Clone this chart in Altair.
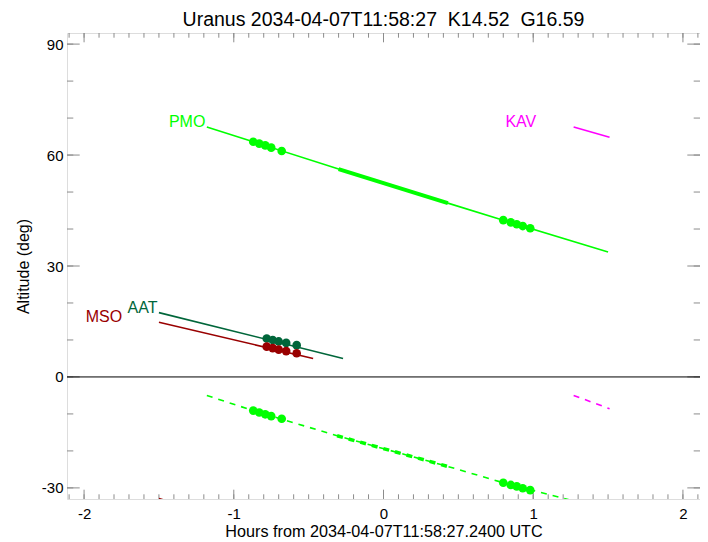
import altair as alt
import pandas as pd

TITLE = "Uranus 2034-04-07T11:58:27\u00a0\u00a0K14.52\u00a0\u00a0G16.59"
X_TITLE = "Hours from 2034-04-07T11:58:27.2400 UTC"
Y_TITLE = "Altitude (deg)"

# axis ticks
X_MAJOR = [-2, -1, 0, 1, 2]
X_MINOR = [round(-2.1 + 0.1 * i, 1) for i in range(43)]
Y_MAJOR = [-30, 0, 30, 60, 90]
Y_MINOR = [-30, -20, -10, 0, 10, 20, 30, 40, 50, 60, 70, 80, 90]

# PMO
PMO_H = [-1.18, -0.87, -0.30, 0.43, 0.80, 1.50]
PMO_ALT = [67.6, 63.6, 56.2, 47.0, 42.4, 33.8]
PMO_THICK_H = [-0.30, 0.43]
PMO_THICK_ALT = [56.2, 47.0]
PMO_DOT_H = [-0.87, -0.83, -0.79, -0.75, -0.68, 0.80, 0.85, 0.89, 0.93, 0.98]
PMO_DOT_ALT = [63.6, 63.1, 62.6, 62.0, 61.1, 42.4, 41.8, 41.3, 40.8, 40.2]
PMO_NEG_H = [-1.18, -0.87, -0.31, 0.43, 0.80, 1.22, 1.50]
PMO_NEG_ALT = [-5.0, -9.1, -15.9, -24.2, -28.6, -33.0, -36.0]
PMO_NEG_THICK_H = [-0.31, 0.43]
PMO_NEG_THICK_ALT = [-15.9, -24.2]
PMO_NEG_DOT_ALT = [-9.1, -9.6, -10.1, -10.6, -11.3, -28.6, -29.2, -29.6, -30.1, -30.6]

# KAV
KAV_H = [1.27, 1.51]
KAV_ALT = [67.6, 64.8]
KAV_NEG_ALT = [-5.0, -8.6]

# AAT
AAT_H = [-1.50, -0.27]
AAT_ALT = [17.4, 5.0]
AAT_DOT_H = [-0.78, -0.74, -0.70, -0.65, -0.58]
AAT_DOT_ALT = [10.4, 10.0, 9.6, 9.2, 8.6]

# MSO
MSO_H = [-1.50, -0.47]
MSO_ALT = [14.8, 5.0]
MSO_DOT_H = [-0.78, -0.74, -0.70, -0.65, -0.58]
MSO_DOT_ALT = [8.2, 7.8, 7.4, 7.0, 6.4]
MSO_NEG_H = [-1.50, -1.40]
MSO_NEG_ALT = [-32.9, -34.0]

# labels
LABELS = ["PMO", "KAV", "AAT", "MSO"]
LABEL_H = [-1.19, 1.02, -1.51, -1.745]
LABEL_ALT = [67.6, 67.6, 17.4, 14.8]

NAMES = ["PMO", "KAV", "AAT", "MSO"]
COLORS = ["#00ff00", "#ff00ff", "#00663a", "#990000"]

W, H = 633, 466
FONT = "Liberation Sans"
TICK_COLOR = "#8c8c8c"

xs = alt.Scale(domain=[-2.114, 2.114], nice=False, zero=False)
ys = alt.Scale(domain=[-33, 93], nice=False, zero=False)
cs = alt.Scale(domain=NAMES, range=COLORS)

xaxis = alt.Axis(values=X_MAJOR, ticks=False, domain=False, grid=False,
                 labelFontSize=15, labelFont=FONT, labelColor="black",
                 labelPadding=7, labelExpr="'' + datum.value", labelFlush=False,
                 title=X_TITLE, titleFontSize=16.2, titleFont=FONT,
                 titleFontWeight="normal", titleColor="black", titlePadding=2)
yaxis = alt.Axis(values=Y_MAJOR, ticks=False, domain=False, grid=False,
                 labelFontSize=15, labelFont=FONT, labelColor="black",
                 labelPadding=4, labelExpr="'' + datum.value", labelFlush=False,
                 title=Y_TITLE, titleFontSize=16, titleFont=FONT,
                 titleFontWeight="normal", titleColor="black", titlePadding=10)


def X():
    return alt.X("h:Q", scale=xs, axis=xaxis)


def Y():
    return alt.Y("a:Q", scale=ys, axis=yaxis)


def frame(rows):
    return pd.DataFrame(rows, columns=["h", "a", "name"])


def rows_of(name, hs, alts):
    return [(h, a, name) for h, a in zip(hs, alts)]


solid = frame(rows_of("PMO", PMO_H, PMO_ALT) + rows_of("KAV", KAV_H, KAV_ALT)
              + rows_of("AAT", AAT_H, AAT_ALT) + rows_of("MSO", MSO_H, MSO_ALT))
thick = frame(rows_of("PMO", PMO_THICK_H, PMO_THICK_ALT))
dashed = frame(rows_of("PMO", PMO_NEG_H, PMO_NEG_ALT) + rows_of("KAV", KAV_H, KAV_NEG_ALT)
               + rows_of("MSO", MSO_NEG_H, MSO_NEG_ALT))
dashed_thick = frame(rows_of("PMO", PMO_NEG_THICK_H, PMO_NEG_THICK_ALT))
dots = frame(rows_of("PMO", PMO_DOT_H, PMO_DOT_ALT) + rows_of("PMO", PMO_DOT_H, PMO_NEG_DOT_ALT)
             + rows_of("AAT", AAT_DOT_H, AAT_DOT_ALT) + rows_of("MSO", MSO_DOT_H, MSO_DOT_ALT))
labels = frame(rows_of(None, LABEL_H, LABEL_ALT))
labels["name"] = LABELS

color = alt.Color("name:N", scale=cs, legend=None)

layers = []


def xtick_layer(vals, length, top):
    df = pd.DataFrame({"h": vals})
    if top:
        yy, yy2 = alt.value(0), alt.value(length)
    else:
        yy, yy2 = alt.value(H), alt.value(H - length)
    return alt.Chart(df).mark_rule(color=TICK_COLOR, strokeWidth=1).encode(x=X(), y=yy, y2=yy2)


def ytick_layer(vals, length, right):
    df = pd.DataFrame({"a": vals})
    if right:
        xx, xx2 = alt.value(W), alt.value(W - length)
    else:
        xx, xx2 = alt.value(0), alt.value(length)
    return alt.Chart(df).mark_rule(color=TICK_COLOR, strokeWidth=1).encode(y=Y(), x=xx, x2=xx2)


layers += [xtick_layer(X_MINOR, 4.7, False), xtick_layer(X_MAJOR, 9.3, False),
           xtick_layer(X_MINOR, 4.7, True), xtick_layer(X_MAJOR, 9.3, True),
           ytick_layer(Y_MINOR, 6.3, False), ytick_layer(Y_MAJOR, 12.7, False),
           ytick_layer(Y_MINOR, 6.3, True), ytick_layer(Y_MAJOR, 12.7, True)]

zero = pd.DataFrame({"a": [0]})
layers.append(alt.Chart(zero).mark_rule(color="black", strokeWidth=1).encode(
    y=Y(), x=alt.value(0), x2=alt.value(W)))

layers.append(alt.Chart(solid).mark_line(strokeWidth=1.6, clip=True).encode(
    x=X(), y=Y(), color=color, detail="name:N"))
layers.append(alt.Chart(thick).mark_line(strokeWidth=4, clip=True).encode(
    x=X(), y=Y(), color=color, detail="name:N"))
layers.append(alt.Chart(dashed).mark_line(strokeWidth=1.6, strokeDash=[6, 6], clip=True).encode(
    x=X(), y=Y(), color=color, detail="name:N"))
layers.append(alt.Chart(dashed_thick).mark_line(strokeWidth=3.5, strokeDash=[6, 6], clip=True).encode(
    x=X(), y=Y(), color=color, detail="name:N"))
layers.append(alt.Chart(dots).mark_circle(size=75, opacity=1, clip=True).encode(
    x=X(), y=Y(), color=color))
layers.append(alt.Chart(labels).mark_text(font=FONT, fontSize=16, align="right",
                                           baseline="alphabetic").encode(
    x=X(), y=Y(), text="name:N", color=color))

chart = alt.layer(*layers).properties(
    width=W, height=H,
    title=alt.TitleParams(TITLE, fontSize=19.5, font=FONT, fontWeight="normal",
                          color="black", anchor="middle", offset=2),
    autosize=alt.AutoSizeParams(type="none"),
    padding={"left": 59, "top": 25, "right": 0, "bottom": 42},
).configure_view(stroke=TICK_COLOR, strokeWidth=1).configure(background="white")

chart.save("out.html", embed_options={"renderer": "svg", "actions": False})
